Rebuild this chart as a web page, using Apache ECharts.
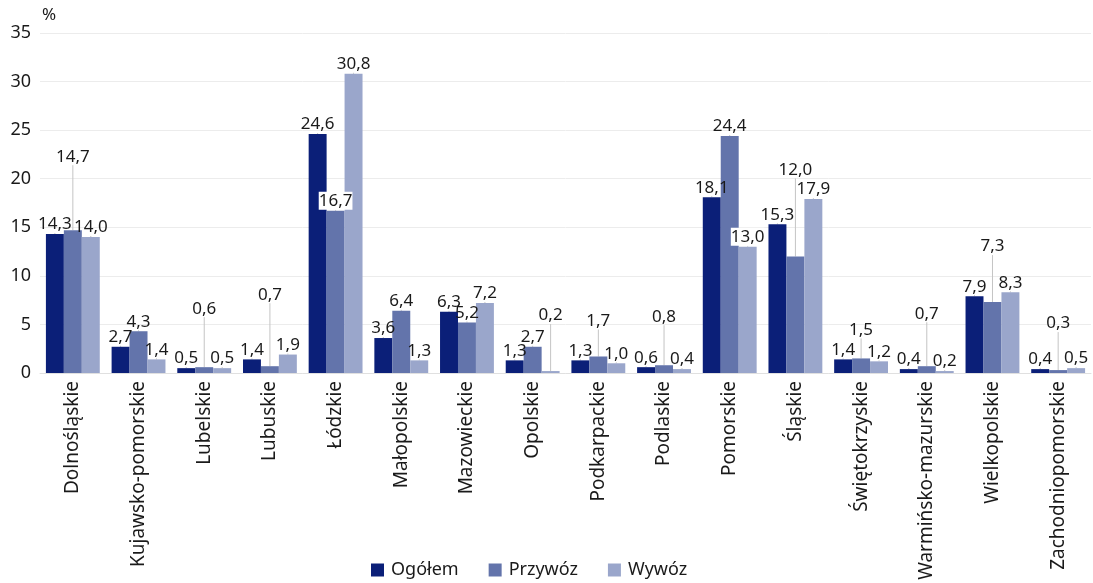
<!DOCTYPE html>
<html>
<head>
<meta charset="utf-8">
<script src="https://cdn.jsdelivr.net/npm/echarts@6/dist/echarts.min.js"></script>
<style>html,body{margin:0;padding:0;background:#fff}#c{width:1093px;height:583px}</style>
</head>
<body>
<div id="c"></div>
<script>
const categories = ['Dolnośląskie','Kujawsko-pomorskie','Lubelskie','Lubuskie','Łódzkie','Małopolskie','Mazowieckie','Opolskie','Podkarpackie','Podlaskie','Pomorskie','Śląskie','Świętokrzyskie','Warmińsko-mazurskie','Wielkopolskie','Zachodniopomorskie'];
const seriesNames = ['Ogółem','Przywóz','Wywóz'];
const ogolem  = [14.3, 2.7, 0.5, 1.4, 24.6, 3.6, 6.3, 1.3, 1.3, 0.6, 18.1, 15.3, 1.4, 0.4, 7.9, 0.4];
const przywoz = [14.7, 4.3, 0.6, 0.7, 16.7, 6.4, 5.2, 2.7, 1.7, 0.8, 24.4, 12.0, 1.5, 0.7, 7.3, 0.3];
const wywoz   = [14.0, 1.4, 0.5, 1.9, 30.8, 1.3, 7.2, 0.2, 1.0, 0.4, 13.0, 17.9, 1.2, 0.2, 8.3, 0.5];
const yTicks = [0, 5, 10, 15, 20, 25, 30, 35];

// label layout tweaks (pixel shifts for raised labels), per series index -> category index
const raised = {
  1: {0: -64, 2: -49, 3: -62, 8: -26, 9: -39, 11: -77, 12: -19, 13: -43, 14: -46, 15: -37},
  2: {7: -46}
};
// labels drawn on a white box (they overlap neighbouring bars)
const boxed = {1: [4], 2: [10]};
const colors = ['#0b1f78', '#6374ab', '#9aa6cb'];
const FONT = 'Noto Sans';

const chart = echarts.init(document.getElementById('c'), null, {renderer: 'canvas'});
const fmt = p => p.value.toFixed(1).replace('.', ',');
const allData = [ogolem, przywoz, wywoz];
const series = allData.map((d, si) => ({
  name: seriesNames[si],
  type: 'bar',
  data: d.map((v, i) => (boxed[si] && boxed[si].includes(i)) ? {value: v, label: {backgroundColor: '#fff'}} : v),
  barGap: '0%',
  barCategoryGap: '18%',
  itemStyle: {color: colors[si]},
  label: {show: true, position: 'top', distance: 1, formatter: fmt, color: '#1a1a1a', fontSize: 17, fontFamily: FONT,
          padding: [0, 0, -1, 0], lineHeight: 19},
  labelLine: {show: true, lineStyle: {color: '#c4c4c4', width: 1}},
  labelLayout: function (p) {
    const m = raised[si];
    if (m && m[p.dataIndex] !== undefined) return {dy: m[p.dataIndex]};
    return {};
  }
}));

chart.setOption({
  animation: false,
  textStyle: {fontFamily: FONT},
  color: colors,
  grid: {left: 40, right: 2, top: 33, bottom: 210},
  legend: {
    bottom: -1, left: 366, itemWidth: 13, itemHeight: 13, itemGap: 30, icon: 'rect',
    textStyle: {fontSize: 18, color: '#1a1a1a', fontFamily: FONT, padding: [0, 0, 0, 2]}
  },
  xAxis: {
    type: 'category', data: categories,
    axisTick: {show: false},
    axisLine: {lineStyle: {color: '#e0e0e0'}},
    axisLabel: {rotate: 90, fontSize: 19, color: '#1a1a1a', margin: 8, interval: 0, fontFamily: FONT}
  },
  yAxis: {
    type: 'value', min: 0, max: 35, interval: 5,
    name: '%', nameLocation: 'end', nameGap: 9,
    nameTextStyle: {fontSize: 17, color: '#1a1a1a', align: 'left', padding: [0, 0, 0, 2], fontFamily: FONT},
    axisLabel: {fontSize: 18, color: '#1a1a1a', margin: 9, fontFamily: FONT, formatter: v => yTicks.includes(v) ? String(v) : ''},
    splitLine: {lineStyle: {color: '#ececec'}}
  },
  series: series
});
</script>
</body>
</html>
